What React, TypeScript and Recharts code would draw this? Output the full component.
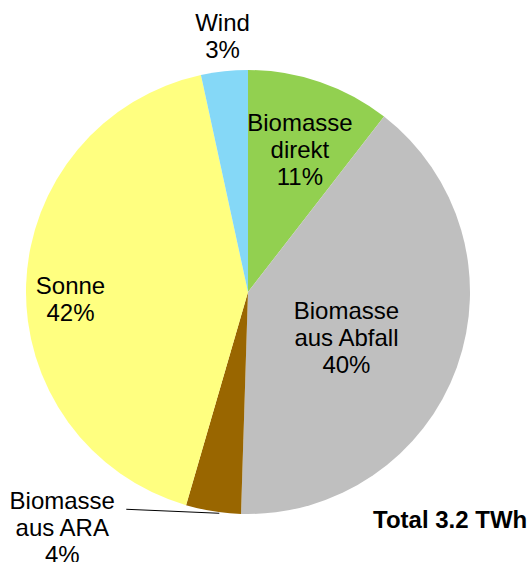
import { PieChart, Pie, Cell } from 'recharts';

const CATEGORIES = ['Biomasse direkt', 'Biomasse aus Abfall', 'Biomasse aus ARA', 'Sonne', 'Wind'];
const SHARES = [10.5, 40.0, 4.0, 42.1, 3.4];
const COLORS = ['#92D050', '#BFBFBF', '#996600', '#FFFF80', '#85D8F7'];
const TOTAL_LABEL = 'Total 3.2 TWh';

// label placement: fraction of radius along the slice mid angle, plus a nudge
const LABEL_LAYOUT: Record<string, { r: number; dx: number; dy: number; leader?: boolean }> = {
  'Biomasse direkt': { r: 0.68, dx: 3, dy: 0 },
  'Biomasse aus Abfall': { r: 0.5, dx: -6, dy: 8 },
  'Biomasse aus ARA': { r: 1.0, dx: -151, dy: 16, leader: true },
  Sonne: { r: 0.8, dx: 0, dy: 13 },
  Wind: { r: 1.16, dx: 2, dy: 0 },
};

const data = CATEGORIES.map((name, i) => ({ name, value: SHARES[i] }));

const RAD = Math.PI / 180;
const FONT = '"Liberation Sans", Arial, sans-serif';
const LINE_H = 27;

function renderLabel(props: any) {
  const { cx, cy, midAngle, outerRadius, name, value } = props;
  const layout = LABEL_LAYOUT[name];
  const ax = cx + outerRadius * layout.r * Math.cos(-midAngle * RAD);
  const ay = cy + outerRadius * layout.r * Math.sin(-midAngle * RAD);
  const x = ax + layout.dx;
  const y = ay + layout.dy;
  const sp = name.indexOf(' ');
  const lines = sp > 0 ? [name.slice(0, sp), name.slice(sp + 1)] : [name];
  lines.push(`${Math.round(value)}%`);
  const top = y - ((lines.length - 1) * LINE_H) / 2;
  return (
    <g key={name}>
      {layout.leader && (
        <line x1={ax + 6} y1={ay + 2} x2={x + 64} y2={y - 18} stroke="#000" strokeWidth={1} />
      )}
      <text x={x} y={top} textAnchor="middle" fontFamily={FONT} fontSize={24} fill="#000">
        {lines.map((l, i) => (
          <tspan key={i} x={x} y={top + i * LINE_H} dominantBaseline="central">
            {l}
          </tspan>
        ))}
      </text>
    </g>
  );
}

export default function App() {
  return (
    <div style={{ position: 'absolute', left: 0, top: 0, width: 531, height: 562, background: '#fff' }}>
      <PieChart width={531} height={562} margin={{ top: 0, right: 0, bottom: 0, left: 0 }}>
        <Pie
          data={data}
          dataKey="value"
          nameKey="name"
          cx={248}
          cy={292}
          outerRadius={222}
          startAngle={90}
          endAngle={-270}
          stroke="none"
          label={renderLabel}
          labelLine={false}
          isAnimationActive={false}
        >
          {data.map((_, i) => (
            <Cell key={`cell-${i}`} fill={COLORS[i]} />
          ))}
        </Pie>
        <text x={373} y={519} dominantBaseline="central" fontFamily={FONT} fontSize={24} fontWeight="bold" fill="#000">
          {TOTAL_LABEL}
        </text>
      </PieChart>
    </div>
  );
}
